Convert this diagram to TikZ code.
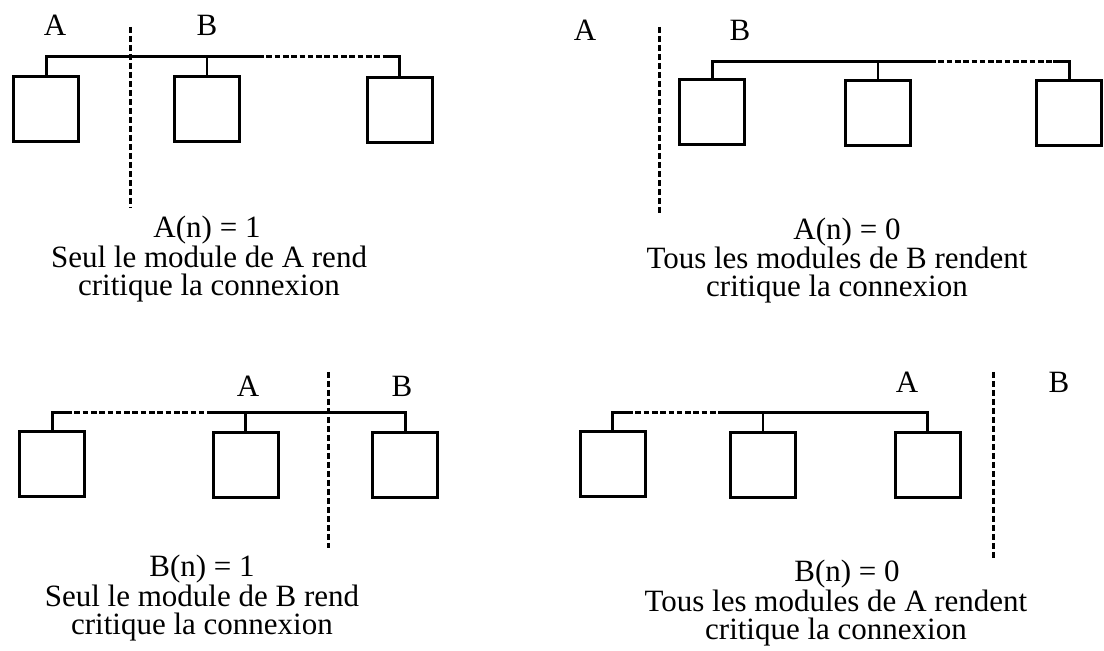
\documentclass[tikz,border=0pt]{standalone}
\usepackage{fontspec}
\setmainfont{Liberation Serif}
\usetikzlibrary{positioning}
\tikzset{
  module/.style={draw,line width=1.5pt,minimum width=32.5pt,minimum height=32.5pt,inner sep=0pt},
  bus/.style={line width=1.5pt},
  stub/.style={line width=1.3pt},
  busgap/.style={line width=1.5pt,dash pattern=on 2.8pt off 1.35pt},
  cut/.style={line width=1.5pt,dash pattern=on 3pt off 1.5pt},
  side/.style={inner sep=0pt,font=\fontsize{15.5}{14}\selectfont},
  formula/.style={inner sep=0pt,anchor=base,font=\fontsize{15.5}{14}\selectfont},
  caption/.style={inner sep=0pt,anchor=north,align=center,font=\fontsize{15.5}{14}\selectfont}
}
\begin{document}
\begin{tikzpicture}[x=0.5pt,y=-0.5pt]
  \useasboundingbox (0,0) rectangle (1104,651);
  % A(n) = 1
  \node[side] (p1a) at (55,25) {A};
  \node[side] (p1b) at (207,25) {B};
  \node[module] (p1m1) at (46,109) {};
  \node[module] (p1m2) at (207,109.5) {};
  \node[module] (p1m3) at (399.5,110) {};
  \coordinate (p1gapL) at (258,57);
  \coordinate (p1gapR) at (383,57);
  \draw[bus] (p1m1.north) |- (p1gapL);
  \draw[busgap] (p1gapL) -- (p1gapR);
  \draw[bus] (p1gapR) -| (p1m3.north);
  \draw[stub] (p1m2.north) -- (p1m2.north |- p1gapL);
  \draw[cut] (130,27) -- (130,208);
  \node[formula] (p1f) at (207,237.5) {A(n) = 1};
  \node[caption] (p1c) at (209,245.7) {Seul le module de A rend\\critique la connexion};
  % A(n) = 0
  \node[side] (p2a) at (585,30) {A};
  \node[side] (p2b) at (740,30) {B};
  \node[module] (p2m1) at (712,112) {};
  \node[module] (p2m2) at (878,113) {};
  \node[module] (p2m3) at (1069,113) {};
  \coordinate (p2gapL) at (930,62);
  \coordinate (p2gapR) at (1053,62);
  \draw[bus] (p2m1.north) |- (p2gapL);
  \draw[busgap] (p2gapL) -- (p2gapR);
  \draw[bus] (p2gapR) -| (p2m3.north);
  \draw[stub] (p2m2.north) -- (p2m2.north |- p2gapL);
  \draw[cut] (659,27) -- (659,213);
  \node[formula] (p2f) at (847,239.5) {A(n) = 0};
  \node[caption] (p2c) at (837,247) {Tous les modules de B rendent\\critique la connexion};
  % B(n) = 1
  \node[side] (p3a) at (248,386) {A};
  \node[side] (p3b) at (402,386) {B};
  \node[module] (p3m1) at (52,464) {};
  \node[module] (p3m2) at (245.5,465.5) {};
  \node[module] (p3m3) at (405,465) {};
  \coordinate (p3gapL) at (66,413);
  \coordinate (p3gapR) at (210,413);
  \draw[bus] (p3m1.north) |- (p3gapL);
  \draw[busgap] (p3gapL) -- (p3gapR);
  \draw[bus] (p3gapR) -| (p3m3.north);
  \draw[stub] (p3m2.north) -- (p3m2.north |- p3gapL);
  \draw[cut] (328,372) -- (328,548);
  \node[formula] (p3f) at (202,577) {B(n) = 1};
  \node[caption] (p3c) at (202,584.5) {Seul le module de B rend\\critique la connexion};
  % B(n) = 0
  \node[side] (p4a) at (907,382) {A};
  \node[side] (p4b) at (1059,382) {B};
  \node[module] (p4m1) at (612.5,464) {};
  \node[module] (p4m2) at (763,465) {};
  \node[module] (p4m3) at (927.5,465.5) {};
  \coordinate (p4gapL) at (627,413);
  \coordinate (p4gapR) at (724,413);
  \draw[bus] (p4m1.north) |- (p4gapL);
  \draw[busgap] (p4gapL) -- (p4gapR);
  \draw[bus] (p4gapR) -| (p4m3.north);
  \draw[stub] (p4m2.north) -- (p4m2.north |- p4gapL);
  \draw[cut] (993,372) -- (993,558);
  \node[formula] (p4f) at (847,581.7) {B(n) = 0};
  \node[caption] (p4c) at (836,589.4) {Tous les modules de A rendent\\critique la connexion};
\end{tikzpicture}
\end{document}
